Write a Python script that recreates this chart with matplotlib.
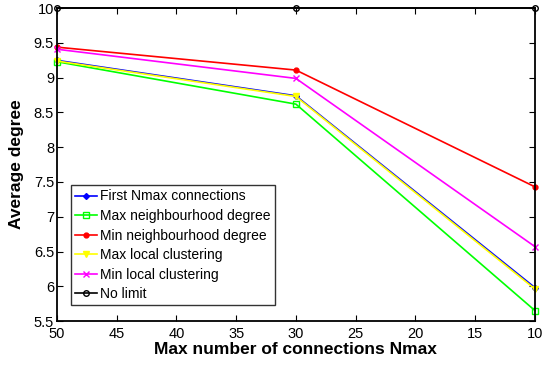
import matplotlib
matplotlib.use("Agg")
import matplotlib.pyplot as plt

nmax = [50, 30, 10]
first_nmax = [9.25, 8.74, 5.98]
max_neigh_deg = [9.23, 8.62, 5.65]
min_neigh_deg = [9.44, 9.11, 7.43]
max_local_clust = [9.24, 8.73, 5.96]
min_local_clust = [9.41, 8.99, 6.57]
no_limit = [10, 10, 10]

labels = ["First Nmax connections", "Max neighbourhood degree",
          "Min neighbourhood degree", "Max local clustering",
          "Min local clustering", "No limit"]

plt.rcParams['font.family'] = ['Liberation Sans', 'DejaVu Sans']

fig = plt.figure(figsize=(5.47, 3.65), dpi=100)
ax = fig.add_axes([0.104, 0.1205, 0.874, 0.857])

series = [first_nmax, max_neigh_deg, min_neigh_deg, max_local_clust,
          min_local_clust, no_limit]
styles = [("#0000ff", "D", 3, "full"), ("#00ff00", "s", 4, "none"),
          ("#ff0000", "o", 3.5, "full"), ("#ffff00", "v", 5, "full"),
          ("#ff00ff", "x", 4, "full"), ("#000000", "o", 4, "none")]
for y, lab, (c, m, ms, fs) in zip(series, labels, styles):
    ax.plot(nmax, y, color=c, marker=m, markersize=ms, fillstyle=fs,
            linewidth=1.2, label=lab, clip_on=False)

ax.set_xlim(50, 10)
ax.set_ylim(5.5, 10)
ax.set_xticks(range(50, 9, -5))
ax.set_yticks([5.5, 6, 6.5, 7, 7.5, 8, 8.5, 9, 9.5, 10])
ax.set_yticklabels(["5.5", "6", "6.5", "7", "7.5", "8", "8.5", "9", "9.5", "10"])
ax.tick_params(direction="in", top=True, right=True, labelsize=10.5,
               length=4, width=0.8)
ax.tick_params(axis="x", pad=4)
ax.tick_params(axis="y", pad=2)
for s in ax.spines.values():
    s.set_linewidth(1.3)

ax.set_xlabel("Max number of connections Nmax", fontsize=12.5,
              fontweight="bold", labelpad=1)
ax.set_ylabel("Average degree", fontsize=12.5, fontweight="bold", labelpad=7)

leg = ax.legend(loc="lower left", bbox_to_anchor=(0.029, 0.05), fontsize=10,
                frameon=True, fancybox=False, edgecolor="black",
                handlelength=1.6, handletextpad=0.2, labelspacing=0.4,
                borderpad=0.3, borderaxespad=0)
leg.get_frame().set_linewidth(1.0)

fig.savefig("out.png", dpi=100)
